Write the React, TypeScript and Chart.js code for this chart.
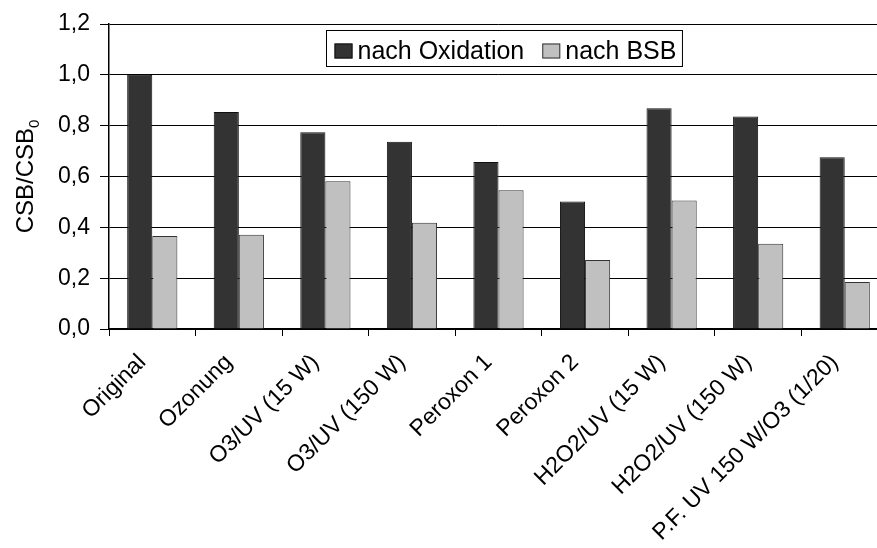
import React, { useEffect, useRef } from "react";
import { Chart, registerables } from "chart.js";

Chart.register(...registerables);

const categories = [
  "Original",
  "Ozonung",
  "O3/UV (15 W)",
  "O3/UV (150 W)",
  "Peroxon 1",
  "Peroxon 2",
  "H2O2/UV (15 W)",
  "H2O2/UV (150 W)",
  "P.F. UV 150 W/O3 (1/20)",
];
const nachOxidation = [1.0, 0.854, 0.774, 0.737, 0.657, 0.502, 0.869, 0.836, 0.676];
const nachBSB = [0.366, 0.371, 0.581, 0.418, 0.546, 0.271, 0.506, 0.335, 0.185];
const seriesNames = ["nach Oxidation", "nach BSB"];
const yMin = 0;
const yMax = 1.2;
const yStep = 0.2;

const FONT = '"Liberation Sans", Arial, sans-serif';

const legendPlugin = {
  id: "boxLegend",
  afterDraw(chart: any) {
    const ctx = chart.ctx;
    const area = chart.chartArea;
    ctx.save();
    ctx.font = `25px ${FONT}`;
    const sqW = 18;
    const sqH = 15;
    const padL = 8;
    const padR = 6;
    const gapText = 5;
    const gapItem = 18;
    const widths = chart.data.datasets.map((d: any) => ctx.measureText(d.label).width);
    let boxW = padL + padR;
    widths.forEach((w: number, i: number) => {
      boxW += sqW + gapText + w + (i < widths.length - 1 ? gapItem : 0);
    });
    const boxH = 36;
    const cx = (area.left + area.right) / 2 + 5;
    const bx = Math.round(cx - boxW / 2) + 0.5;
    const by = area.top + 6.5;
    ctx.fillStyle = "#fff";
    ctx.fillRect(bx, by, boxW, boxH);
    ctx.strokeStyle = "#000";
    ctx.lineWidth = 1;
    ctx.strokeRect(bx, by, boxW, boxH);
    let x = bx + padL;
    const baseY = by + 28;
    chart.data.datasets.forEach((d: any, i: number) => {
      ctx.fillStyle = d.backgroundColor;
      ctx.fillRect(x, baseY - sqH, sqW, sqH);
      ctx.strokeStyle = d.borderColor;
      ctx.strokeRect(x + 0.5, baseY - sqH + 0.5, sqW - 1, sqH - 1);
      x += sqW + gapText;
      ctx.fillStyle = "#000";
      ctx.textBaseline = "alphabetic";
      ctx.textAlign = "left";
      ctx.fillText(d.label, x, baseY);
      x += widths[i] + gapItem;
    });
    ctx.restore();
  },
};

const yTitlePlugin = {
  id: "yTitle",
  afterDraw(chart: any) {
    const ctx = chart.ctx;
    const area = chart.chartArea;
    ctx.save();
    ctx.fillStyle = "#000";
    ctx.font = `24px ${FONT}`;
    const main = "CSB/CSB";
    const sub = "0";
    const wMain = ctx.measureText(main).width;
    ctx.font = `15px ${FONT}`;
    const wSub = ctx.measureText(sub).width;
    const total = wMain + wSub;
    const cy = (area.top + area.bottom) / 2;
    ctx.translate(33, cy + total / 2);
    ctx.rotate(-Math.PI / 2);
    ctx.textAlign = "left";
    ctx.textBaseline = "alphabetic";
    ctx.font = `24px ${FONT}`;
    ctx.fillText(main, 0, 0);
    ctx.font = `15px ${FONT}`;
    ctx.fillText(sub, wMain, 6);
    ctx.restore();
  },
};

export default function App() {
  const canvasRef = useRef<HTMLCanvasElement | null>(null);

  useEffect(() => {
    if (!canvasRef.current) return;
    const chart = new Chart(canvasRef.current, {
      type: "bar",
      data: {
        labels: categories,
        datasets: [
          {
            label: seriesNames[0],
            data: nachOxidation,
            backgroundColor: "#333333",
            borderColor: "#111111",
            borderWidth: 1,
            categoryPercentage: 0.58,
            barPercentage: 1,
          },
          {
            label: seriesNames[1],
            data: nachBSB,
            backgroundColor: "#c0c0c0",
            borderColor: "#333333",
            borderWidth: 1,
            categoryPercentage: 0.58,
            barPercentage: 1,
          },
        ],
      },
      plugins: [legendPlugin, yTitlePlugin],
      options: {
        animation: false,
        responsive: false,
        layout: { padding: { top: 24, left: 0, right: 0, bottom: 0 } },
        plugins: {
          legend: { display: false },
          tooltip: { enabled: false },
        },
        scales: {
          x: {
            afterFit: (scale: any) => {
              scale.height = 219;
            },
            grid: {
              drawOnChartArea: false,
              drawTicks: true,
              tickLength: 7,
              color: "#000",
              offset: true,
            },
            border: { display: true, color: "#000", width: 2 },
            ticks: {
              autoSkip: false,
              maxRotation: 45,
              minRotation: 45,
              labelOffset: -10,
              padding: 13,
              color: "#000",
              font: { family: FONT, size: 23 },
            },
          },
          y: {
            min: yMin,
            max: yMax,
            afterFit: (scale: any) => {
              scale.width = 109;
            },
            grid: {
              color: "#000",
              lineWidth: 1,
              drawTicks: true,
              tickLength: 9,
            },
            border: { display: true, color: "#000", width: 1.5 },
            ticks: {
              stepSize: yStep,
              padding: 10,
              color: "#000",
              font: { family: FONT, size: 23 },
              callback: (v: any) => Number(v).toFixed(1).replace(".", ","),
            },
          },
        },
      },
    });
    return () => chart.destroy();
  }, []);

  return (
    <div
      style={{
        position: "fixed",
        left: 0,
        top: 0,
        width: 877,
        height: 548,
        overflow: "hidden",
        background: "#fff",
      }}
    >
      <canvas ref={canvasRef} width={888} height={548} style={{ display: "block" }} />
    </div>
  );
}
